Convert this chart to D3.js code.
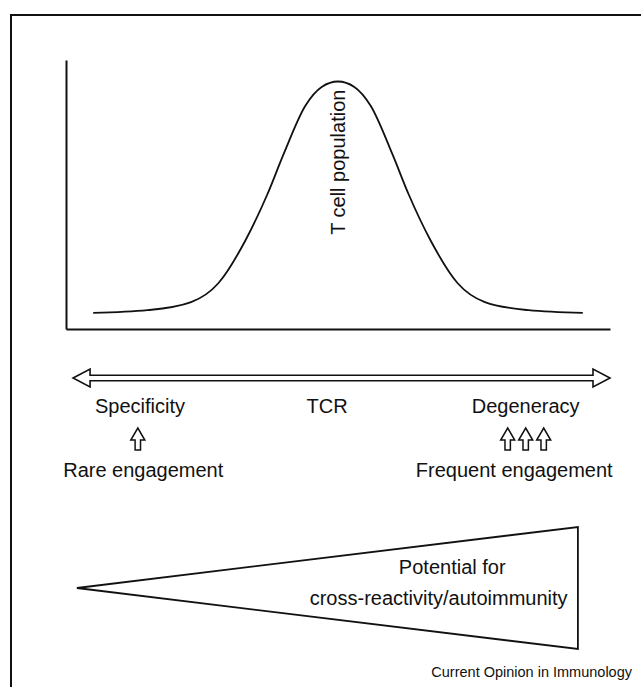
<!DOCTYPE html>
<html>
<head>
<meta charset="utf-8">
<script src="https://cdn.jsdelivr.net/npm/d3@7"></script>
<style>
  body { margin: 0; background: #fff; }
  text { font-family: "Liberation Sans", Arial, sans-serif; fill: #111; }
</style>
</head>
<body>
<div id="chart"></div>
<script>
// T cell population curve (x: TCR spectrum 0-100, y: relative size 0-100)
const curveX = [5, 15, 23, 28, 33, 37, 40, 44, 47, 50, 53, 56, 60, 63, 67, 72, 77, 85, 95];
const curveY = [6, 7, 10, 17, 33, 50, 65, 83, 90, 92, 90, 83, 65, 50, 33, 17, 10, 7, 6];

// labels along the TCR double arrow
const spectrumLabels = ["Specificity", "TCR", "Degeneracy"];
const spectrumPos = [13.6, 48, 84.5];

// engagement arrows
const engageLabels = ["Rare engagement", "Frequent engagement"];
const engagePos = [13.2, 84.5];
const engageLabelPos = [14.2, 82.4];
const engageCount = [1, 3];

// potential wedge (0 at the specific end, max at the degenerate end)
const potentialX = [2, 94.1];
const potentialH = [0, 100];
const potentialText = ["Potential for", "cross-reactivity/autoimmunity"];

const curveLabel = "T cell population";
const credit = "Current Opinion in Immunology";

const width = 641;
const height = 687;
const margin = {left: 66, right: 31, top: 60};
const axisY = 329;

const svg = d3.select("#chart")
  .append("svg")
  .attr("width", width)
  .attr("height", height);

// frame (only top and left edges show in the crop)
svg.append("path")
  .attr("d", `M11,${height} L11,15 L${width},15`)
  .attr("fill", "none")
  .attr("stroke", "#111")
  .attr("stroke-width", 2);

// scales
const x = d3.scaleLinear().domain([0, 100]).range([margin.left, width - margin.right]);
const y = d3.scaleLinear().domain([0, 100]).range([axisY, margin.top]);

// axes, no ticks
svg.append("g")
  .attr("transform", `translate(${margin.left},0)`)
  .call(d3.axisLeft(y).ticks(0).tickSize(0).tickSizeOuter(0))
  .call(g => g.select(".domain").attr("stroke", "#111").attr("stroke-width", 2));

svg.append("g")
  .attr("transform", `translate(0,${axisY})`)
  .call(d3.axisBottom(x).ticks(0).tickSize(0).tickSizeOuter(0))
  .call(g => g.select(".domain").attr("stroke", "#111").attr("stroke-width", 2));

// curve
const pts = curveX.map((d, i) => [d, curveY[i]]);
svg.append("path")
  .datum(pts)
  .attr("fill", "none")
  .attr("stroke", "#111")
  .attr("stroke-width", 1.8)
  .attr("d", d3.line().x(d => x(d[0])).y(d => y(d[1])).curve(d3.curveMonotoneX));

svg.append("text")
  .attr("transform", `translate(${x(50) + 7},${y(62)}) rotate(-90)`)
  .attr("text-anchor", "middle")
  .attr("font-size", 20)
  .text(curveLabel);

// TCR double arrow
const ay = 378;
const x0 = x(1.3), x1 = x(100);
const hl = 17, hh = 9, sh = 2.7;
svg.append("path")
  .attr("d", `M${x0},${ay} L${x0 + hl},${ay - hh} L${x0 + hl},${ay - sh} L${x1 - hl},${ay - sh}
    L${x1 - hl},${ay - hh} L${x1},${ay} L${x1 - hl},${ay + hh} L${x1 - hl},${ay + sh}
    L${x0 + hl},${ay + sh} L${x0 + hl},${ay + hh} Z`)
  .attr("fill", "#fff")
  .attr("stroke", "#111")
  .attr("stroke-width", 1.6);

svg.selectAll(".spec")
  .data(spectrumLabels)
  .enter()
  .append("text")
    .attr("class", "spec")
    .attr("x", (d, i) => x(spectrumPos[i]))
    .attr("y", 413)
    .attr("text-anchor", "middle")
    .attr("font-size", 20)
    .text(d => d);

// up arrows
const upArrow = (cx, top) => `M${cx},${top} L${cx + 7},${top + 12} L${cx + 2.7},${top + 12}
  L${cx + 2.7},${top + 22} L${cx - 2.7},${top + 22} L${cx - 2.7},${top + 12} L${cx - 7},${top + 12} Z`;

engageLabels.forEach((lab, i) => {
  const n = engageCount[i];
  const cx = x(engagePos[i]);
  for (let k = 0; k < n; k++) {
    svg.append("path")
      .attr("d", upArrow(cx + (k - (n - 1) / 2) * 18, 428))
      .attr("fill", "#fff")
      .attr("stroke", "#111")
      .attr("stroke-width", 1.5);
  }
  svg.append("text")
    .attr("x", x(engageLabelPos[i]))
    .attr("y", 477)
    .attr("text-anchor", "middle")
    .attr("font-size", 20)
    .text(lab);
});

// potential wedge
const hScale = d3.scaleLinear().domain([0, 100]).range([0, 61]);
const wy = 588;
const wedge = potentialX.map((d, i) => [x(d), hScale(potentialH[i])]);
svg.append("path")
  .attr("d", `M${wedge[0][0]},${wy - wedge[0][1]} L${wedge[1][0]},${wy - wedge[1][1]}
    L${wedge[1][0]},${wy + wedge[1][1]} L${wedge[0][0]},${wy + wedge[0][1]} Z`)
  .attr("fill", "#fff")
  .attr("stroke", "#111")
  .attr("stroke-width", 1.8);

svg.selectAll(".pot")
  .data(potentialText)
  .enter()
  .append("text")
    .attr("class", "pot")
    .attr("x", (d, i) => i === 0 ? x(71) : x(68.5))
    .attr("y", (d, i) => 574 + i * 31)
    .attr("text-anchor", "middle")
    .attr("font-size", 20)
    .text(d => d);

svg.append("text")
  .attr("x", 632)
  .attr("y", 677)
  .attr("text-anchor", "end")
  .attr("font-size", 14.5)
  .text(credit);
</script>
</body>
</html>
